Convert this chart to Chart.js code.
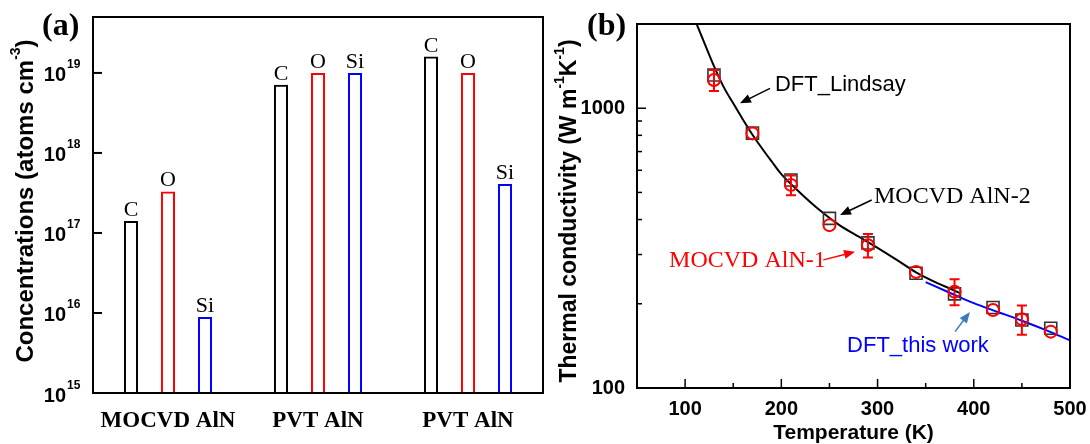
<!DOCTYPE html>
<html>
<head>
<meta charset="utf-8">
<script src="https://cdn.jsdelivr.net/npm/chart.js@4.4.0/dist/chart.umd.min.js"></script>
<style>
  body { margin: 0; background: #fff; width: 1090px; height: 444px; overflow: hidden; position: relative; }
  .panel { position: absolute; top: 0; }
  #wrapA { left: 0; width: 560px; height: 444px; }
  #wrapB { left: 545px; width: 545px; height: 444px; }
</style>
</head>
<body>
<div class="panel" id="wrapA"><canvas id="chartA" width="560" height="444"></canvas></div>
<div class="panel" id="wrapB"><canvas id="chartB" width="545" height="444"></canvas></div>
<script>
// ── panel (a): impurity concentrations ──
const groups    = ['MOCVD AlN', 'PVT AlN', 'PVT AlN'];
const elements  = ['C', 'O', 'Si'];
const carbon    = [1.41e17, 7.1e18, 1.6e19];
const oxygen    = [3.3e17, 1.0e19, 1.0e19];
const silicon   = [8.9e15, 1.0e19, 4.1e17];
const concTicks = [1e15, 1e16, 1e17, 1e18, 1e19];

// ── panel (b): thermal conductivity ──
const lindsayT  = [112, 120, 130, 140, 150, 160, 170, 180, 190, 200, 220, 240, 260, 280, 300, 320, 340, 360, 380, 386];
const lindsayK  = [2000, 1712, 1414, 1192, 1041, 912, 804, 718, 645, 581, 497, 432, 383, 348, 317, 287, 259, 239, 223, 218];
const thisWorkT = [350, 375, 400, 425, 450, 475, 500];
const thisWorkK = [239, 219, 201, 187, 174, 161, 148];
const sampleT   = [130, 170, 210, 250, 290, 340, 380, 420, 450, 480];
const aln1K     = [1261, 813, 532, 382, 324, 260, 221, 190, 176, 159];
const aln1Err   = [108, 0, 43, 0, 31, 0, 23.5, 0, 21, 0];
const aln2K     = [1314, 815, 554, 404, 330, 257, 217, 194, 175, 163.5];
const tempTicks = [100, 200, 300, 400, 500];
const tempMinor = [150, 250, 350, 450];
const kTicks    = [100, 1000];
const kMinor    = [200, 300, 400, 500, 600, 700, 800, 900];

const SANS  = '"Liberation Sans", Arial, sans-serif';
const SERIF = '"Liberation Serif", "Times New Roman", serif';
const BAR_COLORS = ['#000000', '#ff0000', '#0000ff'];

// text with superscript pieces, optionally rotated
function drawRich(ctx, parts, cx, cy, size, rotate) {
  const supSize = Math.round(size * 0.6);
  let total = 0;
  parts.forEach(p => {
    ctx.font = `bold ${p.sup ? supSize : size}px ${SANS}`;
    p.w = ctx.measureText(p.t).width;
    total += p.w;
  });
  ctx.save();
  ctx.translate(cx, cy);
  if (rotate) ctx.rotate(-Math.PI / 2);
  ctx.fillStyle = '#000';
  ctx.textBaseline = 'middle';
  ctx.textAlign = 'left';
  let x = -total / 2;
  parts.forEach(p => {
    ctx.font = `bold ${p.sup ? supSize : size}px ${SANS}`;
    ctx.fillText(p.t, x, p.sup ? -size * 0.42 : 0);
    x += p.w;
  });
  ctx.restore();
}

function arrow(ctx, x1, y1, x2, y2, color) {
  const ang = Math.atan2(y2 - y1, x2 - x1);
  const len = 11, half = 4.5;
  ctx.save();
  ctx.strokeStyle = color;
  ctx.fillStyle = color;
  ctx.lineWidth = 1.5;
  ctx.beginPath();
  ctx.moveTo(x1, y1);
  ctx.lineTo(x2 - Math.cos(ang) * len * 0.8, y2 - Math.sin(ang) * len * 0.8);
  ctx.stroke();
  ctx.beginPath();
  ctx.moveTo(x2, y2);
  ctx.lineTo(x2 - Math.cos(ang) * len - Math.sin(ang) * half, y2 - Math.sin(ang) * len + Math.cos(ang) * half);
  ctx.lineTo(x2 - Math.cos(ang) * len + Math.sin(ang) * half, y2 - Math.sin(ang) * len - Math.cos(ang) * half);
  ctx.closePath();
  ctx.fill();
  ctx.restore();
}

// ── panel (a) decorations ──
const panelA = {
  id: 'panelA',
  afterDatasetsDraw(chart) {
    const ctx = chart.ctx;
    ctx.save();
    ctx.fillStyle = '#000';
    ctx.font = `22px ${SERIF}`;
    ctx.textAlign = 'center';
    ctx.textBaseline = 'alphabetic';
    chart.data.datasets.forEach((ds, i) => {
      chart.getDatasetMeta(i).data.forEach(el => {
        ctx.fillText(elements[i], el.x, el.y - 5);
      });
    });
    ctx.restore();
  },
  afterDraw(chart) {
    const { ctx, chartArea: a, scales: { y } } = chart;
    ctx.save();
    ctx.strokeStyle = '#000';
    ctx.lineWidth = 2;
    ctx.strokeRect(a.left, a.top, a.width, a.height);
    ctx.fillStyle = '#000';
    concTicks.forEach(v => {
      const py = y.getPixelForValue(v);
      ctx.beginPath();
      ctx.moveTo(a.left, py);
      ctx.lineTo(a.left + 9, py);
      ctx.stroke();
      ctx.textBaseline = 'alphabetic';
      ctx.textAlign = 'right';
      ctx.font = `bold 20px ${SANS}`;
      ctx.fillText('10', 66, py + 8.5);
      ctx.textAlign = 'left';
      ctx.font = `bold 12px ${SANS}`;
      ctx.fillText(String(Math.round(Math.log10(v))), 67, py - 4.5);
    });
    ctx.font = `bold 32px ${SERIF}`;
    ctx.textAlign = 'left';
    ctx.textBaseline = 'middle';
    ctx.fillText('(a)', 42, 27);
    ctx.restore();
    drawRich(ctx, [
      { t: 'Concentrations (atoms cm' }, { t: '-3', sup: true }, { t: ')' }
    ], 26, 201, 24, true);
  },
};

new Chart(document.getElementById('chartA'), {
  type: 'bar',
  data: {
    labels: groups,
    datasets: [carbon, oxygen, silicon].map((vals, i) => ({
      label: elements[i],
      data: vals,
      backgroundColor: 'rgba(0,0,0,0)',
      borderColor: BAR_COLORS[i],
      borderWidth: 2,
      categoryPercentage: 0.74,
      barPercentage: 0.38,
    })),
  },
  options: {
    responsive: false,
    animation: false,
    layout: { padding: { top: 17, right: 17, left: 0, bottom: 0 } },
    plugins: { legend: { display: false }, tooltip: { enabled: false } },
    scales: {
      x: {
        grid: { display: false },
        border: { display: false },
        ticks: { color: '#000', padding: 6, maxRotation: 0, autoSkip: false,
                 font: { family: SERIF, size: 23, weight: 'bold' } },
        afterFit: s => { s.height = 51; },
      },
      y: {
        type: 'logarithmic',
        min: 1e15, max: 5e19,
        bounds: 'data',
        grid: { display: false },
        border: { display: false },
        ticks: { display: false },
        afterBuildTicks: s => { s.ticks = concTicks.map(v => ({ value: v })); },
        afterFit: s => { s.width = 93; },
      },
    },
  },
  plugins: [panelA],
});

// ── panel (b) decorations ──
const notes = [
  { text: 'DFT_Lindsay',   font: `22px ${SANS}`,  color: '#000000', at: [193.4, 1210], from: [188.2, 1178], to: [157, 1041],  arrow: '#000000' },
  { text: 'MOCVD AlN-2',   font: `24px ${SERIF}`, color: '#000000', at: [296.3, 482],  from: [293.9, 470],  to: [261, 415],   arrow: '#000000' },
  { text: 'MOCVD AlN-1',   font: `24px ${SERIF}`, color: '#ff0000', at: [83.3, 284.5], from: [243.6, 287],  to: [276.6, 307], arrow: '#ff0000' },
  { text: 'DFT_this work', font: `22px ${SANS}`,  color: '#0000ff', at: [268.3, 141.3], from: [380.5, 159], to: [396, 187],   arrow: '#3b7bbf' },
];

const panelB = {
  id: 'panelB',
  afterDatasetsDraw(chart) {
    const { ctx, scales: { x, y } } = chart;
    ctx.save();
    ctx.strokeStyle = '#ff0000';
    ctx.lineWidth = 2;
    sampleT.forEach((t, i) => {
      const e = aln1Err[i];
      if (!e) return;
      const px = x.getPixelForValue(t);
      const hi = y.getPixelForValue(aln1K[i] + e);
      const lo = y.getPixelForValue(aln1K[i] - e);
      ctx.beginPath();
      ctx.moveTo(px, hi); ctx.lineTo(px, lo);
      ctx.moveTo(px - 5, hi); ctx.lineTo(px + 5, hi);
      ctx.moveTo(px - 5, lo); ctx.lineTo(px + 5, lo);
      ctx.stroke();
    });
    ctx.restore();
  },
  afterDraw(chart) {
    const { ctx, chartArea: a, scales: { x, y } } = chart;
    ctx.save();
    ctx.strokeStyle = '#000';
    ctx.lineWidth = 2;
    ctx.strokeRect(a.left, a.top, a.width, a.height);
    ctx.lineWidth = 1.5;
    const tick = (x1, y1, x2, y2) => { ctx.beginPath(); ctx.moveTo(x1, y1); ctx.lineTo(x2, y2); ctx.stroke(); };
    tempTicks.forEach(v => { const px = x.getPixelForValue(v); tick(px, a.bottom, px, a.bottom - 9); });
    tempMinor.forEach(v => { const px = x.getPixelForValue(v); tick(px, a.bottom, px, a.bottom - 5); });
    kTicks.forEach(v => { const py = y.getPixelForValue(v); tick(a.left, py, a.left + 9, py); });
    kMinor.forEach(v => { const py = y.getPixelForValue(v); tick(a.left, py, a.left + 5, py); });

    notes.forEach(n => {
      ctx.font = n.font;
      ctx.fillStyle = n.color;
      ctx.textAlign = 'left';
      ctx.textBaseline = 'middle';
      ctx.fillText(n.text, x.getPixelForValue(n.at[0]), y.getPixelForValue(n.at[1]));
      arrow(ctx, x.getPixelForValue(n.from[0]), y.getPixelForValue(n.from[1]),
                 x.getPixelForValue(n.to[0]), y.getPixelForValue(n.to[1]), n.arrow);
    });

    ctx.fillStyle = '#000';
    ctx.font = `bold 32px ${SERIF}`;
    ctx.textAlign = 'left';
    ctx.textBaseline = 'middle';
    ctx.fillText('(b)', 42, 27);
    ctx.font = `bold 21px ${SANS}`;
    ctx.textAlign = 'center';
    ctx.fillText('Temperature (K)', (a.left + a.right) / 2, 433);
    ctx.restore();
    drawRich(ctx, [
      { t: 'Thermal conductivity (W m' }, { t: '-1', sup: true }, { t: 'K' }, { t: '-1', sup: true }, { t: ')' }
    ], 25, 211, 23, true);
  },
};

const toXY = (xs, ys) => xs.map((v, i) => ({ x: v, y: ys[i] }));

new Chart(document.getElementById('chartB'), {
  type: 'scatter',
  data: {
    datasets: [
      {
        label: 'MOCVD AlN-1',
        data: toXY(sampleT, aln1K),
        pointStyle: 'circle',
        pointRadius: 6,
        borderColor: '#ff0000',
        backgroundColor: 'rgba(0,0,0,0)',
        borderWidth: 2,
        order: 0,
      },
      {
        label: 'MOCVD AlN-2',
        data: toXY(sampleT, aln2K),
        pointStyle: 'rect',
        pointRadius: 8.5,
        borderColor: '#333333',
        backgroundColor: 'rgba(0,0,0,0)',
        borderWidth: 1.6,
        order: 1,
      },
      {
        label: 'DFT_Lindsay',
        data: toXY(lindsayT, lindsayK),
        showLine: true,
        cubicInterpolationMode: 'monotone',
        borderColor: '#000000',
        borderWidth: 2,
        pointRadius: 0,
        order: 2,
      },
      {
        label: 'DFT_this work',
        data: toXY(thisWorkT, thisWorkK),
        showLine: true,
        cubicInterpolationMode: 'monotone',
        borderColor: '#0000ff',
        borderWidth: 2,
        pointRadius: 0,
        order: 3,
      },
    ],
  },
  options: {
    responsive: false,
    animation: false,
    layout: { padding: { top: 24, right: 20, left: 0, bottom: 0 } },
    plugins: { legend: { display: false }, tooltip: { enabled: false } },
    scales: {
      x: {
        type: 'linear',
        min: 50, max: 500,
        bounds: 'data',
        grid: { display: false },
        border: { display: false },
        ticks: { color: '#000', padding: 1, maxRotation: 0,
                 font: { family: SANS, size: 20, weight: 'bold' } },
        afterBuildTicks: s => { s.ticks = tempTicks.map(v => ({ value: v })); },
        afterFit: s => { s.height = 56; },
      },
      y: {
        type: 'logarithmic',
        min: 100, max: 2000,
        bounds: 'data',
        grid: { display: false },
        border: { display: false },
        ticks: { color: '#000', padding: 4,
                 font: { family: SANS, size: 20, weight: 'bold' },
                 callback: v => String(v) },
        afterBuildTicks: s => { s.ticks = kTicks.map(v => ({ value: v })); },
        afterFit: s => { s.width = 92; },
      },
    },
  },
  plugins: [panelB],
});
</script>
</body>
</html>
